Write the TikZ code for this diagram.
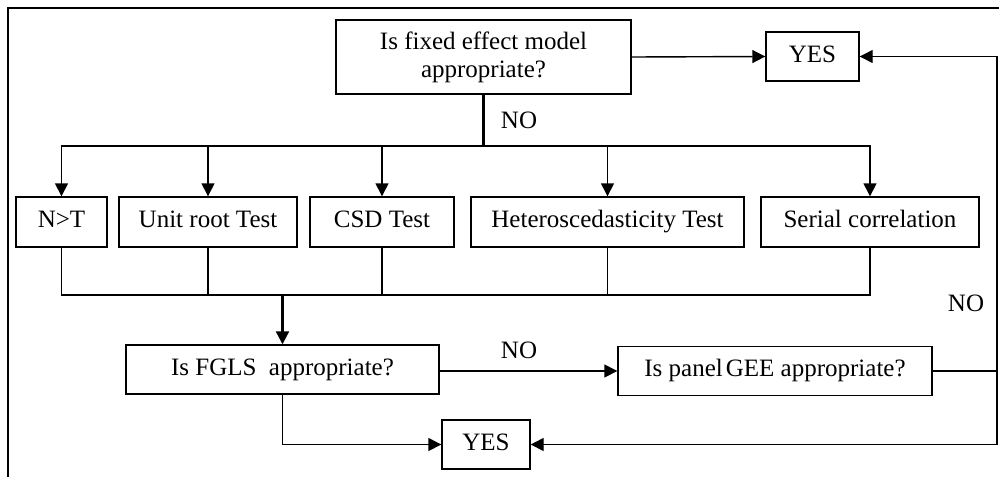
\documentclass[tikz,border=0pt]{standalone}
\usepackage{fontspec}
\setmainfont{Liberation Serif}
\usetikzlibrary{arrows.meta}
\begin{document}
	\begin{tikzpicture}[x=0.5pt, y=-0.5pt,
		font=\fontsize{12.5}{14}\selectfont,
		blok/.style={draw, line width=0.7pt, inner sep=0pt, minimum height=24.5pt, align=center},
		odna/.style={blok, text height=8.6pt, text depth=2.8pt},
		strelka/.style={line width=0.7pt, -{Triangle[length=6.5pt, width=6.5pt]}},
		liniya/.style={line width=0.7pt},
		zhirnaya/.style={line width=1.1pt}]
		\useasboundingbox ( 0, 0 ) rectangle ( 999, 477 );

		% рамка
		\draw [liniya] ( 8, 477 ) -- ( 8, 8 ) -- ( 999, 8 );

		% блоки
		\node [blok, minimum width=147.5pt, minimum height=37pt] (fem) at ( 483.5, 57 ) {Is fixed effect model\\appropriate?};
		\node [odna, minimum width=46.5pt] (yesA) at ( 812.5, 56.5 ) {YES};
		\node [odna, minimum width=45.5pt, minimum height=25pt] (nt) at ( 61.5, 222 ) {N>T};
		\node [odna, minimum width=89pt, minimum height=25pt] (unitroot) at ( 208, 222 ) {Unit root Test};
		\node [odna, minimum width=72pt, minimum height=25pt] (csd) at ( 382, 222 ) {CSD Test};
		\node [odna, minimum width=136.5pt, minimum height=25pt] (hetero) at ( 607.5, 222 ) {Heteroscedasticity Test};
		\node [odna, minimum width=109pt, minimum height=25pt] (serial) at ( 870, 222 ) {Serial correlation};
		\node [odna, minimum width=156.5pt] (fgls) at ( 282.5, 369.5 ) {Is FGLS\ \ appropriate?};
		\node [odna, minimum width=157pt] (gee) at ( 775, 371 ) {Is panel\hspace{1.5pt}GEE\ appropriate?};
		\node [odna, minimum width=44pt] (yesB) at ( 486, 444.5 ) {YES};

		% метки
		\node (noA) at ( 519, 120 ) {NO};
		\node (noB) at ( 519, 350 ) {NO};
		\node (noC) at ( 966, 303 ) {NO};

		% точки разветвления
		\coordinate (bus) at ( 483.5, 146 );
		\coordinate (join) at ( 282.5, 295 );
		\coordinate (loop) at ( 997, 371 );

		% ветка NO вниз
		\draw [zhirnaya] (fem.south) -- (bus);
		\draw [strelka] (bus) -| (nt.north);
		\draw [strelka] (bus) -| (unitroot.north);
		\draw [strelka] (bus) -| (csd.north);
		\draw [strelka] (bus) -| (hetero.north);
		\draw [strelka] (bus) -| (serial.north);

		% сбор к FGLS
		\draw [liniya] (nt.south) |- (join);
		\draw [liniya] (unitroot.south) |- (join);
		\draw [liniya] (csd.south) |- (join);
		\draw [liniya] (hetero.south) |- (join);
		\draw [liniya] (serial.south) |- (join);
		\draw [strelka, zhirnaya] (join) -- (fgls.north);

		% ответы
		\draw [strelka] (fem.east) -- (yesA.west);
		\draw [strelka] (fgls.east |- gee.west) -- (gee.west);
		\draw [strelka] (fgls.south) |- (yesB.west);
		\draw [liniya] (gee.east) -- (loop);
		\draw [strelka] (loop) |- (yesA.east);
		\draw [strelka] (loop) |- (yesB.east);
	\end{tikzpicture}
\end{document}
